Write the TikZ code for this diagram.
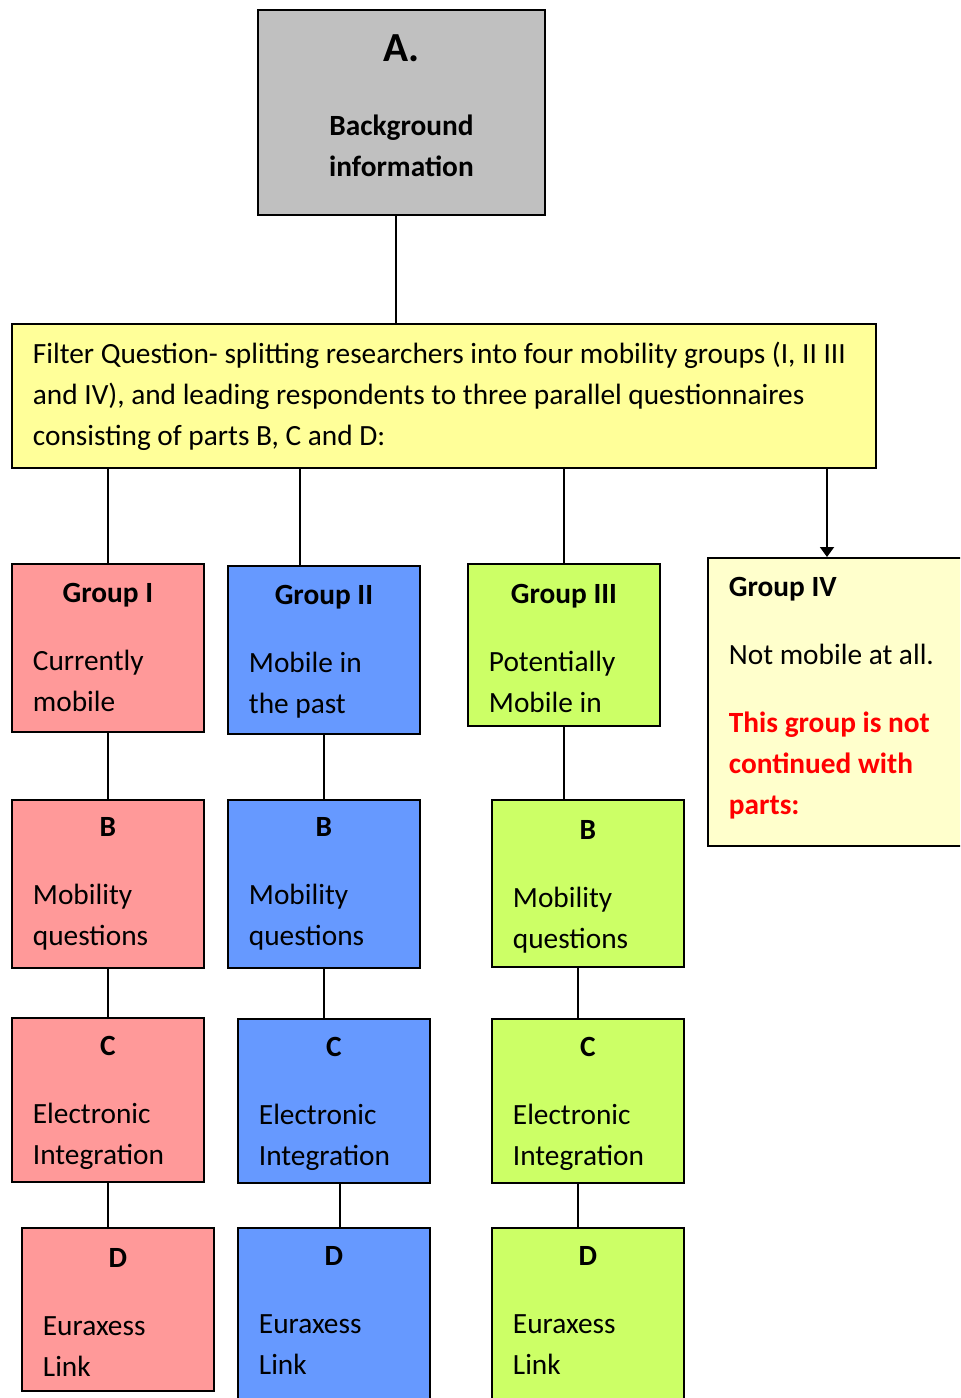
\documentclass[tikz,border=0pt]{standalone}
\usepackage{fontspec}
\setmainfont{Carlito}
\usetikzlibrary{arrows.meta,positioning}

\definecolor{boxgray}{HTML}{C0C0C0}
\definecolor{filteryellow}{HTML}{FFFF99}
\definecolor{groupred}{HTML}{FF9999}
\definecolor{groupblue}{HTML}{6699FF}
\definecolor{groupgreen}{HTML}{CCFF66}
\definecolor{groupcream}{HTML}{FFFFCC}

\newcommand{\headline}[2][0pt]{{\centering\bfseries\rule{0pt}{#1}#2\par}\vspace{20.25pt}}

\begin{document}
\begin{tikzpicture}[x=0.75pt,y=-0.75pt,
		every node/.style={font=\fontsize{22}{30.75}\selectfont},
		box/.style={rectangle, draw, line width=1.4pt, anchor=north west, align=flush left,
			inner xsep=15.75pt, inner ysep=0pt, text width=112.5pt},
		link/.style={line width=1.4pt}]
		\useasboundingbox (0,0) rectangle (960,1398);
		\clip (0,0) rectangle (960,1398);

		% part A and the filter question
		\node[box, fill=boxgray, align=flush center, text width=183.75pt, minimum height=153.75pt] (a_0) at (257,9)
			{{\fontsize{31}{38}\selectfont\bfseries A.}\\[24.5pt]\bfseries Background\\ information\rule[-10.5pt]{0pt}{0pt}};
		\node[box, fill=filteryellow, text width=616.5pt, minimum height=108pt] (f_0) at (11,323)
			{Filter Question- splitting researchers into four mobility groups (I, II III\\
			and IV), and leading respondents to three parallel questionnaires\\
			consisting of parts B, C and D:};

		% the four groups
		\node[box, fill=groupred, minimum height=126pt] 	(g_1) at (11,563) 	{\headline{Group I}Currently\\ mobile};
		\node[box, fill=groupblue, minimum height=126pt] 	(g_2) at (227,565) 	{\headline[17.5pt]{Group II}Mobile in\\ the past};
		\node[box, fill=groupgreen, minimum height=121.5pt] (g_3) at (467,563) 	{\headline[19pt]{Group III}Potentially\\ Mobile in};
		\node[box, fill=groupcream, text width=186pt, minimum height=216pt] (g_4) at (707,557)
			{\textbf{Group IV}\\[20.25pt] Not mobile at all.\\[20.25pt]
			\textcolor{red}{\bfseries This group is not\\ continued with\\ parts:}\rule[-9.5pt]{0pt}{0pt}};

		% parts B, C and D
		\node[box, fill=groupred, minimum height=126pt] 	(b_1) at (11,799) 	{\headline{B}Mobility\\ questions};
		\node[box, fill=groupblue, minimum height=126pt] 	(b_2) at (227,799) 	{\headline{B}Mobility\\ questions};
		\node[box, fill=groupgreen, minimum height=125.25pt] (b_3) at (491,799) {\headline[19pt]{B}Mobility\\ questions};

		\node[box, fill=groupred, minimum height=123pt] 	(c_1) at (11,1017) 	{\headline[19pt]{C}Electronic\\ Integration};
		\node[box, fill=groupblue, minimum height=123pt] 	(c_2) at (237,1018) {\headline[19pt]{C}Electronic\\ Integration};
		\node[box, fill=groupgreen, minimum height=123pt] 	(c_3) at (491,1018) {\headline[19pt]{C}Electronic\\ Integration};

		\node[box, fill=groupred, minimum height=122.25pt] 	(d_1) at (21,1227) 	{\headline[19pt]{D}Euraxess\\ Link};
		\node[box, fill=groupblue, minimum height=142.5pt] 	(d_2) at (237,1227) {\headline{D}Euraxess\\ Link\rule[-18pt]{0pt}{0pt}};
		\node[box, fill=groupgreen, minimum height=142.5pt] (d_3) at (491,1227) {\headline{D}Euraxess\\ Link\rule[-18pt]{0pt}{0pt}};

		\coordinate (a_out) at ([xshift=-4pt]a_0.south);
		\coordinate (g_2in) at ([xshift=-18pt]g_2.north);
		\coordinate (g_4in) at ([xshift=90pt]g_4.north west);
		\coordinate (b_3out) at ([xshift=-7.5pt]b_3.south);
		\coordinate (c_2out) at ([xshift=4.5pt]c_2.south);
		\coordinate (c_3out) at ([xshift=-7.5pt]c_3.south);

		\path[link]
			(a_out) 	edge 	(a_out |- f_0.north)
			(g_1) 		edge 	(g_1 |- f_0.south)
			(g_2in) 	edge 	(g_2in |- f_0.south)
			(g_3) 		edge 	(g_3 |- f_0.south)
			(g_4in |- f_0.south) edge [-{Triangle[length=7.5pt,width=10.5pt]}] (g_4in)
			(g_1) 		edge 	(b_1)
			(g_2) 		edge 	(b_2)
			(g_3) 		edge 	(g_3 |- b_3.north)
			(b_1) 		edge 	(c_1)
			(b_2) 		edge 	(b_2 |- c_2.north)
			(b_3out) 	edge 	(b_3out |- c_3.north)
			(c_1) 		edge 	(c_1 |- d_1.north)
			(c_2out) 	edge 	(c_2out |- d_2.north)
			(c_3out) 	edge 	(c_3out |- d_3.north);
	\end{tikzpicture}
\end{document}
